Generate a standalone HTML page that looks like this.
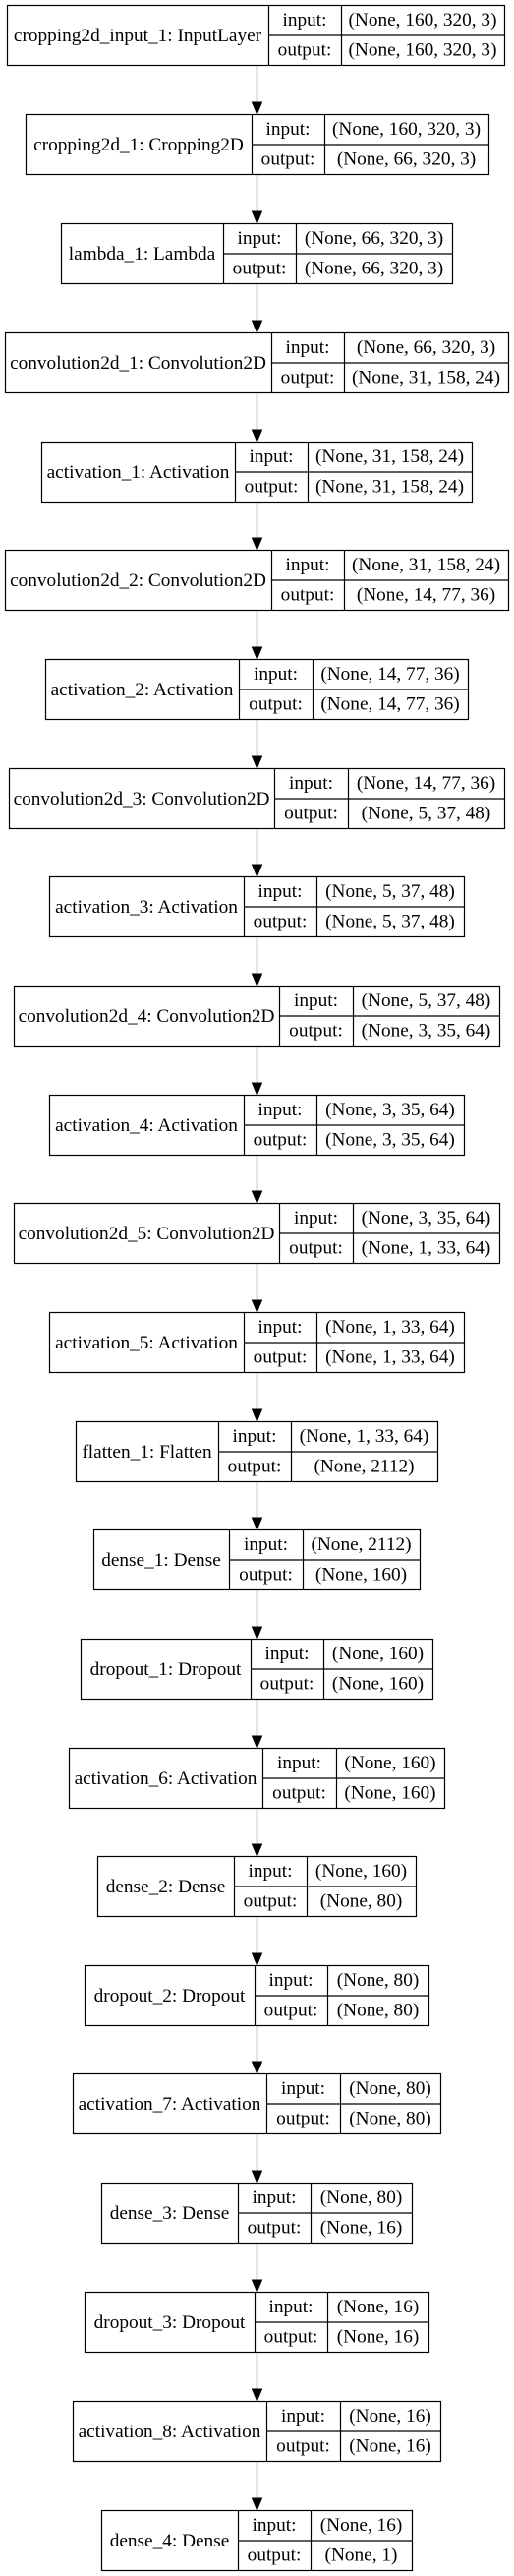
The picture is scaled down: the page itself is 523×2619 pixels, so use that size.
<!DOCTYPE html>
<html><head><meta charset="utf-8">
<style>
html,body{margin:0;padding:0;background:#fff;}
svg{display:block;}
text{font-family:"Liberation Serif","Times New Roman",serif;font-size:19.3px;fill:#000;}
</style></head>
<body>
<svg id="chart" width="523" height="2619" viewBox="0 0 523 2619" xmlns="http://www.w3.org/2000/svg"></svg>
<script>
const layerNames = ["cropping2d_input_1: InputLayer","cropping2d_1: Cropping2D","lambda_1: Lambda","convolution2d_1: Convolution2D","activation_1: Activation","convolution2d_2: Convolution2D","activation_2: Activation","convolution2d_3: Convolution2D","activation_3: Activation","convolution2d_4: Convolution2D","activation_4: Activation","convolution2d_5: Convolution2D","activation_5: Activation","flatten_1: Flatten","dense_1: Dense","dropout_1: Dropout","activation_6: Activation","dense_2: Dense","dropout_2: Dropout","activation_7: Activation","dense_3: Dense","dropout_3: Dropout","activation_8: Activation","dense_4: Dense"];
const inputShapes = ["(None, 160, 320, 3)","(None, 160, 320, 3)","(None, 66, 320, 3)","(None, 66, 320, 3)","(None, 31, 158, 24)","(None, 31, 158, 24)","(None, 14, 77, 36)","(None, 14, 77, 36)","(None, 5, 37, 48)","(None, 5, 37, 48)","(None, 3, 35, 64)","(None, 3, 35, 64)","(None, 1, 33, 64)","(None, 1, 33, 64)","(None, 2112)","(None, 160)","(None, 160)","(None, 160)","(None, 80)","(None, 80)","(None, 80)","(None, 16)","(None, 16)","(None, 16)"];
const outputShapes = ["(None, 160, 320, 3)","(None, 66, 320, 3)","(None, 66, 320, 3)","(None, 31, 158, 24)","(None, 31, 158, 24)","(None, 14, 77, 36)","(None, 14, 77, 36)","(None, 5, 37, 48)","(None, 5, 37, 48)","(None, 3, 35, 64)","(None, 3, 35, 64)","(None, 1, 33, 64)","(None, 1, 33, 64)","(None, 2112)","(None, 160)","(None, 160)","(None, 160)","(None, 80)","(None, 80)","(None, 80)","(None, 16)","(None, 16)","(None, 16)","(None, 1)"];
const boxLeft   = [7,26,62,5,42,5,46,9,50,14,50,14,50,77,95,82,70,99,86,74,103,86,74,103];
const labelEnd  = [273,256,227,276,239,276,243,279,248,284,248,284,248,222,233,255,267,238,259,271,242,259,271,242];
const colEnd    = [347,330,301,350,313,350,318,354,322,359,322,359,322,296,308,329,342,312,333,346,316,333,346,316];
const boxRight  = [513,497,460,517,480,517,476,513,472,508,472,508,472,445,427,440,452,423,436,448,419,436,448,419];
const boxTop    = [5,116,227,338,449,559,670,781,891,1002,1113,1223,1334,1445,1555,1666,1777,1887,1998,2108,2219,2330,2441,2552];

const NS="http://www.w3.org/2000/svg";
const svg=document.getElementById('chart');
const H=61, CX=261.5;
function mk(tag,attrs,parent){const e=document.createElementNS(NS,tag);for(const k in attrs)e.setAttribute(k,attrs[k]);(parent||svg).appendChild(e);return e;}
function txt(x,y,s,g){const t=mk('text',{x:x,y:y,'text-anchor':'middle','dominant-baseline':'central'},g);t.textContent=s;return t;}

for(let i=0;i<layerNames.length;i++){
  const g=mk('g',{});
  
  
  const t=boxTop[i], l=boxLeft[i], r=boxRight[i], le=labelEnd[i], ce=colEnd[i];
  mk('rect',{x:l+0.5,y:t+0.5,width:r-l,height:H,fill:'#fff',stroke:'#000','stroke-width':1.2},g);
  mk('line',{x1:le+0.5,y1:t,x2:le+0.5,y2:t+H+1,stroke:'#000','stroke-width':1.2},g);
  mk('line',{x1:ce+0.5,y1:t,x2:ce+0.5,y2:t+H+1,stroke:'#000','stroke-width':1.2},g);
  mk('line',{x1:le,y1:t+31,x2:r+1,y2:t+31,stroke:'#000','stroke-width':1.2},g);
  const lt=txt((l+le)/2,t+H/2+1,layerNames[i],g);
  
  
  const a=txt((le+ce)/2,t+15.5,'input:',g);
  
  
  const b=txt((le+ce)/2,t+46,'output:',g);
  
  
  const c=txt((ce+r)/2,t+15.5,inputShapes[i],g);
  
  
  const d=txt((ce+r)/2,t+46,outputShapes[i],g);
  
  
  if(i<layerNames.length-1){
    const y1=t+H+1, y2=boxTop[i+1];
    const ag=mk('g',{});
    
    
    mk('line',{x1:CX,y1:y1,x2:CX,y2:y2-11,stroke:'#000','stroke-width':1.2},ag);
    mk('polygon',{points:(CX-5)+','+(y2-12)+' '+(CX+5)+','+(y2-12)+' '+CX+','+y2,fill:'#000',stroke:'#000'},ag);
  }
}
</script>
</body></html>
